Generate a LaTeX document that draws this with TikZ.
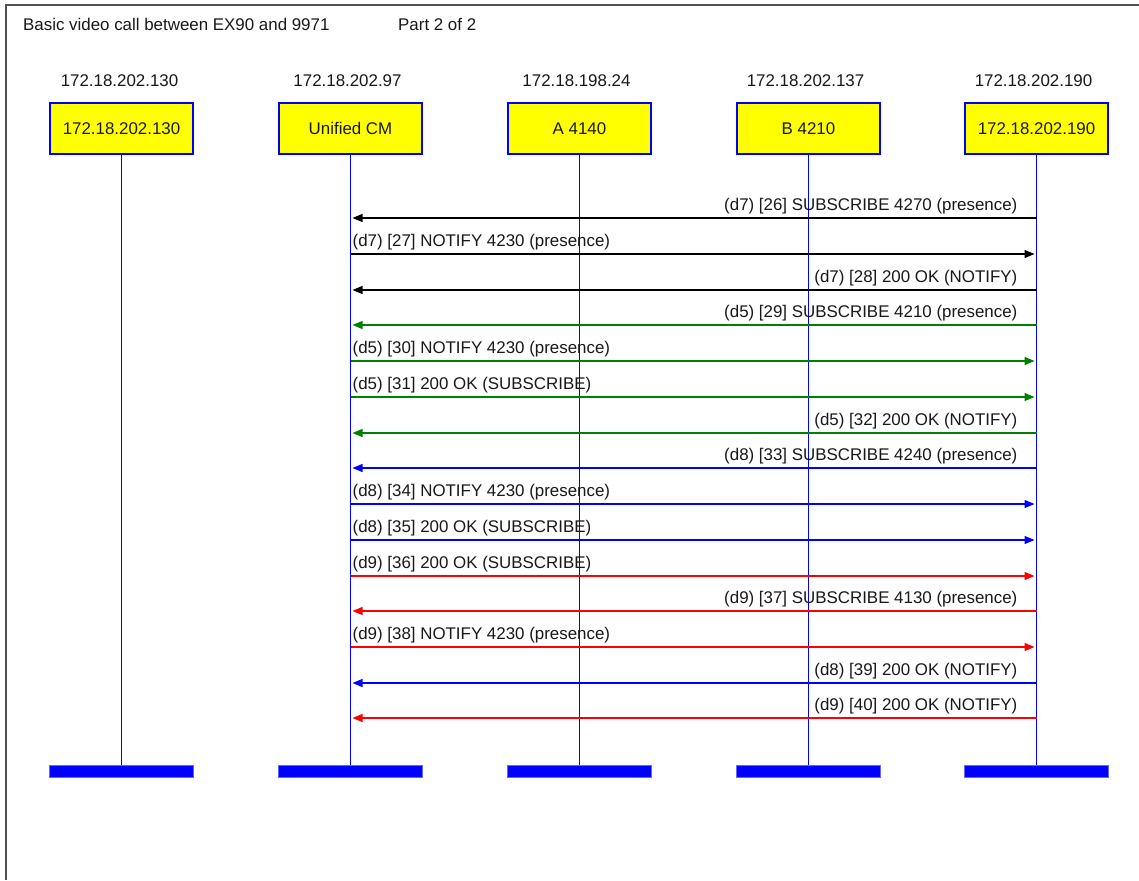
\documentclass[tikz,border=0pt]{standalone}
\usepackage{fontspec}
\setmainfont{Liberation Sans}
\usetikzlibrary{arrows.meta}
\definecolor{lblue}{RGB}{0,0,255}
\definecolor{lgreen}{RGB}{0,128,0}
\definecolor{lred}{RGB}{255,0,0}
\definecolor{lframe}{RGB}{80,80,80}
\definecolor{lyellow}{RGB}{255,255,0}
\newcommand\msgL[4]{%
  \coordinate (s#4) at (h5 |- 0,#1);
  \coordinate (t#4) at ([xshift=2pt]h2 |- 0,#1);
  \draw[msgline,#2] (s#4) -- (t#4);
  \node[lblL] (m#4) at ([xshift=-19pt]h5 |- 0,#1-11.5) {#3};}
\newcommand\msgR[4]{%
  \coordinate (s#4) at (h2 |- 0,#1);
  \coordinate (t#4) at ([xshift=-2pt]h5 |- 0,#1);
  \draw[msgline,#2] (s#4) -- (t#4);
  \node[lblR] (m#4) at ([xshift=2pt]h2 |- 0,#1-11.5) {#3};}
\begin{document}
\begin{tikzpicture}[x=1pt,y=-1pt,
  txt/.style={inner sep=0pt,font=\fontsize{16.9}{19}\selectfont,text=black!90},
  hostbox/.style={draw=lblue,line width=1.3pt,fill=lyellow,minimum width=143pt,minimum height=51pt,inner sep=0pt,font=\fontsize{16.9}{19}\selectfont,text=black!90},
  endbar/.style={fill=lblue,draw=lblue!60,line width=0.5pt,minimum width=144pt,minimum height=12pt,inner sep=0pt},
  lifeline/.style={draw=lblue,line width=1.4pt},
  msgline/.style={line width=1.2pt,-{Triangle[length=10pt,width=8pt]}},
  lblL/.style={txt,anchor=east},
  lblR/.style={txt,anchor=west}]
\useasboundingbox (0,0) rectangle (1139,880);
\fill[white] (0,0) rectangle (1139,880);
\draw[lframe,line width=2pt] (1139,5) -- (6,5) -- (6,880);
\node[txt,anchor=west] (title) at (23,24) {Basic video call between EX90 and 9971};
\node[txt,anchor=west] (part) at (398,24) {Part 2 of 2};
% hosts
\node[hostbox] (h1) at (121.5,128.5) {172.18.202.130};
\node[hostbox] (h2) at (350.5,128.5) {Unified CM};
\node[hostbox] (h3) at (579.5,128.5) {A 4140};
\node[hostbox] (h4) at (808.5,128.5) {B 4210};
\node[hostbox] (h5) at (1036.5,128.5) {172.18.202.190};
\node[txt] (ip1) at (119.5,81) {172.18.202.130};
\node[txt] (ip2) at (347.5,81) {172.18.202.97};
\node[txt] (ip3) at (576.5,81) {172.18.198.24};
\node[txt] (ip4) at (805.5,81) {172.18.202.137};
\node[txt] (ip5) at (1033.5,81) {172.18.202.190};
% end bars
\foreach \i/\x in {1/121.5,2/350.5,3/579.5,4/808.5,5/1036.5}{
  \node[endbar] (b\i) at (\x,771) {};
  \draw[lifeline] (h\i.south) -- (b\i.north);
}
% messages
\msgL{218}{black}{(d7) [26] SUBSCRIBE 4270 (presence)}{26}
\msgR{254}{black}{(d7) [27] NOTIFY 4230 (presence)}{27}
\msgL{290}{black}{(d7) [28] 200 OK (NOTIFY)}{28}
\msgL{325}{lgreen}{(d5) [29] SUBSCRIBE 4210 (presence)}{29}
\msgR{361}{lgreen}{(d5) [30] NOTIFY 4230 (presence)}{30}
\msgR{397}{lgreen}{(d5) [31] 200 OK (SUBSCRIBE)}{31}
\msgL{433}{lgreen}{(d5) [32] 200 OK (NOTIFY)}{32}
\msgL{468}{lblue}{(d8) [33] SUBSCRIBE 4240 (presence)}{33}
\msgR{504}{lblue}{(d8) [34] NOTIFY 4230 (presence)}{34}
\msgR{540}{lblue}{(d8) [35] 200 OK (SUBSCRIBE)}{35}
\msgR{576}{lred}{(d9) [36] 200 OK (SUBSCRIBE)}{36}
\msgL{611}{lred}{(d9) [37] SUBSCRIBE 4130 (presence)}{37}
\msgR{647}{lred}{(d9) [38] NOTIFY 4230 (presence)}{38}
\msgL{683}{lblue}{(d8) [39] 200 OK (NOTIFY)}{39}
\msgL{718}{lred}{(d9) [40] 200 OK (NOTIFY)}{40}
\end{tikzpicture}
\end{document}
